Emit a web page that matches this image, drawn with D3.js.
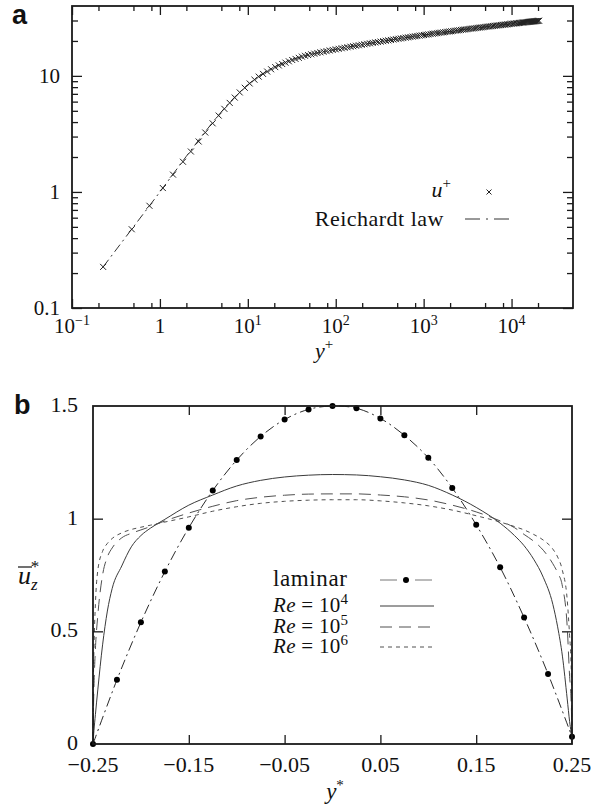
<!DOCTYPE html>
<html>
<head>
<meta charset="utf-8">
<script src="https://cdn.jsdelivr.net/npm/d3@7"></script>
<style>
  body { margin: 0; background: #fff; }
  svg text { font-family: 'Liberation Serif', serif; fill: #111; }
</style>
</head>
<body>
<div id="chart"></div>
<script>
// ---------- panel a : wall law ----------
const yPlus = [0.226, 0.478, 0.76, 1.08, 1.41, 1.83, 2.25, 2.76, 3.28, 3.98, 4.66, 5.41, 6.22, 7.1, 8.09, 9.23,
  10.5, 11.9, 13.3, 14.9, 16.6, 18.4, 20.5, 22.5, 24.6, 26.8, 29.3, 32, 34.9, 38,
  41.2, 44.7, 48.5, 52.6, 57, 61.8, 67, 72.6, 78.7, 85.3, 92.4, 100, 108, 117, 126, 136, 147, 158, 170, 183, 197,
  212, 228, 245, 263, 282, 302, 324, 347, 371, 397, 424, 453, 484, 517, 551, 587, 625, 665, 707, 751, 798, 847, 898, 952,
  1010, 1070, 1130, 1200, 1270, 1340, 1420, 1500, 1580, 1670, 1760, 1860, 1960, 2060, 2170, 2290, 2410, 2530, 2660, 2800,
  2940, 3090, 3240, 3400, 3570, 3740, 3920, 4110, 4310, 4510, 4720, 4940, 5170, 5410, 5650, 5900, 6160, 6430, 6710, 7000,
  7300, 7610, 7930, 8260, 8600, 8950, 9310, 9680, 10100, 10500, 10900, 11300, 11700, 12100, 12500, 12900, 13300, 13700,
  14100, 14500, 14900, 15300, 15700, 16100, 16500, 16900, 17300, 17700, 18100, 18500, 18900, 19300, 19700, 20100, 20600];
const uPlus = [0.226, 0.477, 0.76, 1.08, 1.41, 1.82, 2.23, 2.72, 3.25, 3.9, 4.55, 5.2, 5.85, 6.5, 7.2, 7.9,
  8.6, 9.27, 9.85, 10.4, 10.9, 11.4, 11.9, 12.3, 12.65, 13.0, 13.35, 13.7, 14.0, 14.3,
  14.65, 14.89, 15.12, 15.34, 15.55, 15.75, 15.95, 16.15, 16.34, 16.54, 16.73, 16.92, 17.1, 17.29, 17.47, 17.65, 17.84, 18.01, 18.19, 18.36, 18.54,
  18.72, 18.89, 19.07, 19.24, 19.41, 19.57, 19.74, 19.91, 20.07, 20.23, 20.39, 20.56, 20.72, 20.88, 21.03, 21.18, 21.34, 21.49, 21.64, 21.78, 21.93, 22.08, 22.22, 22.36,
  22.5, 22.64, 22.78, 22.92, 23.06, 23.19, 23.33, 23.47, 23.59, 23.73, 23.86, 23.99, 24.12, 24.24, 24.37, 24.5, 24.62, 24.74, 24.86, 24.99,
  25.11, 25.23, 25.34, 25.46, 25.58, 25.69, 25.81, 25.92, 26.04, 26.15, 26.26, 26.37, 26.48, 26.59, 26.7, 26.8, 26.91, 27.01, 27.12, 27.22,
  27.32, 27.42, 27.52, 27.62, 27.72, 27.82, 27.92, 28.01, 28.11, 28.21, 28.3, 28.39, 28.47, 28.56, 28.63, 28.71, 28.79, 28.86,
  28.93, 29.0, 29.06, 29.13, 29.19, 29.25, 29.31, 29.37, 29.43, 29.48, 29.54, 29.59, 29.64, 29.69, 29.74, 29.79, 29.85];
const reichardtY = [0.226, 0.5, 1, 2, 3, 5, 7, 10, 15, 20, 30, 50, 100, 300, 1000, 3000, 10000, 20600];
const reichardtU = [0.226, 0.5, 1.0, 2.03, 3.03, 4.9, 6.49, 8.38, 10.5, 11.93, 13.6, 15.2, 16.92, 19.56, 22.48, 25.16, 28.1, 29.85];

const xTicksA = [0.1, 1, 10, 100, 1000, 10000];
const xTickLabelsA = [["10", "−1"], ["1", ""], ["10", "1"], ["10", "2"], ["10", "3"], ["10", "4"]];
const yTicksA = [0.1, 1, 10];
const yTickLabelsA = ["0.1", "1", "10"];

// ---------- panel b : velocity profiles ----------
const yStar = [-0.25, -0.2495, -0.249, -0.2475, -0.245, -0.24, -0.235, -0.23, -0.22, -0.21, -0.2, -0.19, -0.175,
  -0.15, -0.125, -0.1, -0.075, -0.05, -0.025, 0, 0.025, 0.05, 0.075, 0.1, 0.125, 0.15,
  0.175, 0.19, 0.2, 0.21, 0.22, 0.23, 0.235, 0.24, 0.245, 0.2475, 0.249, 0.2495, 0.25];
const re4 = [0, 0.03, 0.06, 0.13, 0.24, 0.44, 0.59, 0.69, 0.79, 0.875, 0.925, 0.958, 0.997,
  1.06, 1.105, 1.145, 1.17, 1.185, 1.193, 1.196, 1.194, 1.186, 1.172, 1.148, 1.105, 1.05,
  0.98, 0.925, 0.88, 0.82, 0.74, 0.62, 0.52, 0.39, 0.2, 0.1, 0.05, 0.025, 0];
const re5 = [0, 0.15, 0.25, 0.42, 0.57, 0.75, 0.83, 0.87, 0.915, 0.935, 0.95, 0.965, 0.99,
  1.025, 1.055, 1.08, 1.095, 1.104, 1.109, 1.11, 1.11, 1.105, 1.097, 1.083, 1.06, 1.03,
  0.99, 0.96, 0.93, 0.9, 0.86, 0.8, 0.76, 0.7, 0.52, 0.3, 0.2, 0.13, 0];
const re6 = [0, 0.3, 0.42, 0.62, 0.77, 0.855, 0.89, 0.912, 0.937, 0.952, 0.962, 0.971, 0.985,
  1.008, 1.033, 1.053, 1.068, 1.077, 1.082, 1.084, 1.084, 1.079, 1.07, 1.057, 1.038, 1.013,
  0.985, 0.965, 0.95, 0.93, 0.905, 0.865, 0.83, 0.77, 0.64, 0.48, 0.36, 0.26, 0];
const lamY = [-0.25, -0.225, -0.2, -0.175, -0.15, -0.125, -0.1, -0.075, -0.05, -0.025, 0,
  0.025, 0.05, 0.075, 0.1, 0.125, 0.15, 0.175, 0.2, 0.225, 0.25];
const lamU = [0, 0.285, 0.54, 0.765, 0.96, 1.125, 1.26, 1.365, 1.44, 1.485, 1.5,
  1.49, 1.445, 1.37, 1.27, 1.136, 0.973, 0.784, 0.561, 0.311, 0.032];

const xTicksB = [-0.25, -0.15, -0.05, 0.05, 0.15, 0.25];
const xTickLabelsB = ["−0.25", "−0.15", "−0.05", "0.05", "0.15", "0.25"];
const yTicksB = [0, 0.5, 1, 1.5];
const yTickLabelsB = ["0", "0.5", "1", "1.5"];

const svg = d3.select("#chart").append("svg")
  .attr("width", 592).attr("height", 811)
  .style("background", "#fff");

const ink = "#1a1a1a";
const serif = "'Liberation Serif'";
const sans = "'Liberation Sans'";

// ================= panel a =================
const A = {left: 72, top: 6, right: 573, bottom: 308};
const wa = A.right - A.left, ha = A.bottom - A.top;
const ga = svg.append("g").attr("transform", `translate(${A.left},${A.top})`);

const xa = d3.scaleLog().domain([0.1, 50000]).range([0, wa]);
const ya = d3.scaleLog().domain([0.1, 40]).range([ha, 0]);

// minor ticks (2,5,8 per decade on x; 2..9 on y)
const xMinorA = [];
xTicksA.forEach(d => [2, 5, 8].forEach(m => { if (d * m < 50000) xMinorA.push(d * m); }));
const yMinorA = [];
[0.1, 1, 10].forEach(d => d3.range(2, 10).forEach(m => { if (d * m < 40) yMinorA.push(d * m); }));

function tickAxes(g, x, y, w, h, xMaj, xMin, yMaj, yMin) {
  const add = (axis, tr) => {
    const a = g.append("g").attr("transform", tr).call(axis);
    a.select(".domain").remove();
    a.selectAll("line").attr("stroke", ink).attr("stroke-width", 1.3);
  };
  add(d3.axisBottom(x).tickValues(xMaj).tickSize(-9).tickFormat(""), `translate(0,${h})`);
  add(d3.axisTop(x).tickValues(xMaj).tickSize(-9).tickFormat(""), "translate(0,0)");
  add(d3.axisLeft(y).tickValues(yMaj).tickSize(-10).tickFormat(""), "translate(0,0)");
  add(d3.axisRight(y).tickValues(yMaj).tickSize(-10).tickFormat(""), `translate(${w},0)`);
  if (xMin.length) {
    add(d3.axisBottom(x).tickValues(xMin).tickSize(-5).tickFormat(""), `translate(0,${h})`);
    add(d3.axisTop(x).tickValues(xMin).tickSize(-5).tickFormat(""), "translate(0,0)");
  }
  if (yMin.length) {
    add(d3.axisLeft(y).tickValues(yMin).tickSize(-6).tickFormat(""), "translate(0,0)");
    add(d3.axisRight(y).tickValues(yMin).tickSize(-6).tickFormat(""), `translate(${w},0)`);
  }
  g.append("rect").attr("width", w).attr("height", h)
    .attr("fill", "none").attr("stroke", ink).attr("stroke-width", 1.8);
}

// Reichardt law line
const lineA = d3.line().x(d => xa(d[0])).y(d => ya(d[1])).curve(d3.curveMonotoneX);
ga.append("path")
  .datum(reichardtY.map((v, i) => [v, reichardtU[i]]))
  .attr("fill", "none").attr("stroke", "#333").attr("stroke-width", 1)
  .attr("stroke-dasharray", "9,4,2,4")
  .attr("d", lineA);

// u+ crosses
const cross = "M-3,-3L3,3M-3,3L3,-3";
ga.append("g").selectAll("path")
  .data(yPlus.map((v, i) => [v, uPlus[i]]))
  .join("path")
  .attr("transform", d => `translate(${xa(d[0])},${ya(d[1])})`)
  .attr("d", cross)
  .attr("fill", "none").attr("stroke", "#222").attr("stroke-width", 1);

tickAxes(ga, xa, ya, wa, ha, xTicksA, xMinorA, yTicksA, yMinorA);

// tick labels
xTicksA.forEach((t, i) => {
  const tx = svg.append("text")
    .attr("x", A.left + xa(t)).attr("y", A.bottom + 25)
    .attr("text-anchor", "middle").style("font-family", serif).style("font-size", "21px");
  tx.append("tspan").text(xTickLabelsA[i][0]);
  if (xTickLabelsA[i][1]) tx.append("tspan").attr("dy", -8).style("font-size", "14px").text(xTickLabelsA[i][1]);
});
yTicksA.forEach((t, i) => {
  svg.append("text")
    .attr("x", A.left - 12).attr("y", A.top + ya(t) + 7)
    .attr("text-anchor", "end").style("font-family", serif).style("font-size", "21px")
    .text(yTickLabelsA[i]);
});

// axis title
const tA = svg.append("text").attr("x", 324).attr("y", 358)
  .attr("text-anchor", "middle").style("font-family", serif).style("font-size", "22px");
tA.append("tspan").style("font-style", "italic").text("y");
tA.append("tspan").attr("dy", -9).style("font-size", "15px").text("+");

// legend a
const lu = svg.append("text").attr("x", 451).attr("y", 197)
  .attr("text-anchor", "end").style("font-family", serif).style("font-size", "22px");
lu.append("tspan").style("font-style", "italic").text("u");
lu.append("tspan").attr("dy", -9).style("font-size", "15px").text("+");
svg.append("path").attr("transform", "translate(489,192)").attr("d", "M-2.5,-2.5L2.5,2.5M-2.5,2.5L2.5,-2.5")
  .attr("fill", "none").attr("stroke", "#222").attr("stroke-width", 1);
svg.append("text").attr("x", 444).attr("y", 226)
  .attr("text-anchor", "end").style("font-family", serif).style("font-size", "22px")
  .style("letter-spacing", "0.5px").text("Reichardt law");
svg.append("line").attr("x1", 465).attr("x2", 510).attr("y1", 219).attr("y2", 219)
  .attr("stroke", "#333").attr("stroke-width", 1).attr("stroke-dasharray", "15,6,2,6,15");

svg.append("text").attr("x", 12).attr("y", 24)
  .style("font-family", sans)
  .style("font-weight", "bold").style("font-size", "27px").text("a");

// ================= panel b =================
const B = {left: 93, top: 406, right: 572, bottom: 744};
const wb = B.right - B.left, hb = B.bottom - B.top;
const gb = svg.append("g").attr("transform", `translate(${B.left},${B.top})`);

const xb = d3.scaleLinear().domain([-0.25, 0.25]).range([0, wb]);
const yb = d3.scaleLinear().domain([0, 1.5]).range([hb, 0]);

const lineB = d3.line().x(d => xb(d[0])).y(d => yb(d[1])).curve(d3.curveMonotoneX);

const series = [
  {vals: re4, dash: null, color: "#3a3a3a"},
  {vals: re5, dash: "12,7", color: "#505050"},
  {vals: re6, dash: "4,4", color: "#505050"}
];
series.forEach(s => {
  gb.append("path")
    .datum(yStar.map((v, i) => [v, s.vals[i]]))
    .attr("fill", "none").attr("stroke", s.color).attr("stroke-width", 1)
    .attr("stroke-dasharray", s.dash)
    .attr("d", lineB);
});

const lamData = lamY.map((v, i) => [v, lamU[i]]);
gb.append("path").datum(lamData)
  .attr("fill", "none").attr("stroke", "#2a2a2a").attr("stroke-width", 1)
  .attr("stroke-dasharray", "10,4,2,4")
  .attr("d", lineB.curve(d3.curveCatmullRom));
gb.append("g").selectAll("circle").data(lamData).join("circle")
  .attr("cx", d => xb(d[0])).attr("cy", d => yb(d[1])).attr("r", 3)
  .attr("fill", "#000");

tickAxes(gb, xb, yb, wb, hb, xTicksB.slice(1, -1), [], yTicksB.slice(1, -1), []);

xTicksB.forEach((t, i) => {
  svg.append("text")
    .attr("x", B.left + xb(t)).attr("y", B.bottom + 28)
    .attr("text-anchor", "middle").style("font-family", serif).style("font-size", "22px")
    .text(xTickLabelsB[i]);
});
yTicksB.forEach((t, i) => {
  svg.append("text")
    .attr("x", B.left - 15).attr("y", B.top + yb(t) + 6)
    .attr("text-anchor", "end").style("font-family", serif).style("font-size", "22px")
    .text(yTickLabelsB[i]);
});

// axis titles
const tB = svg.append("text").attr("x", 335).attr("y", 799)
  .attr("text-anchor", "middle").style("font-family", serif).style("font-size", "23px");
tB.append("tspan").style("font-style", "italic").text("y");
tB.append("tspan").attr("dy", -9).style("font-size", "15px").text("*");

const tU = svg.append("text").attr("x", 18).attr("y", 584).style("font-family", serif).style("font-size", "26px");
tU.append("tspan").style("font-style", "italic").text("u");
tU.append("tspan").attr("dy", 6).style("font-size", "17px").style("font-style", "italic").text("z");
tU.append("tspan").attr("dx", -7).attr("dy", -18).style("font-size", "17px").text("*");
svg.append("line").attr("x1", 18).attr("x2", 32).attr("y1", 567).attr("y2", 567)
  .attr("stroke", "#111").attr("stroke-width", 1.2);

// legend b
const legY = [580, 606, 627, 647];
svg.append("text").attr("x", 273).attr("y", 586).style("font-family", serif)
  .style("font-size", "23px").style("letter-spacing", "0.6px").text("laminar");
svg.append("line").attr("x1", 380).attr("x2", 432).attr("y1", legY[0]).attr("y2", legY[0])
  .attr("stroke", "#777").attr("stroke-width", 1).attr("stroke-dasharray", "17,18");
svg.append("circle").attr("cx", 406).attr("cy", legY[0]).attr("r", 3).attr("fill", "#000");

["4", "5", "6"].forEach((e, i) => {
  const t = svg.append("text").attr("x", 273).attr("y", legY[i + 1] + 6)
    .style("font-family", serif).style("font-size", "21px").style("letter-spacing", "0.3px");
  t.append("tspan").style("font-style", "italic").text("Re");
  t.append("tspan").text(" = 10");
  t.append("tspan").attr("dy", -8).style("font-size", "15px").text(e);
  svg.append("line").attr("x1", 380).attr("x2", 434).attr("y1", legY[i + 1]).attr("y2", legY[i + 1])
    .attr("stroke", series[i].color).attr("stroke-width", 1)
    .attr("stroke-dasharray", series[i].dash);
});

svg.append("text").attr("x", 14).attr("y", 414)
  .style("font-family", sans)
  .style("font-weight", "bold").style("font-size", "27px").text("b");
</script>
</body>
</html>
